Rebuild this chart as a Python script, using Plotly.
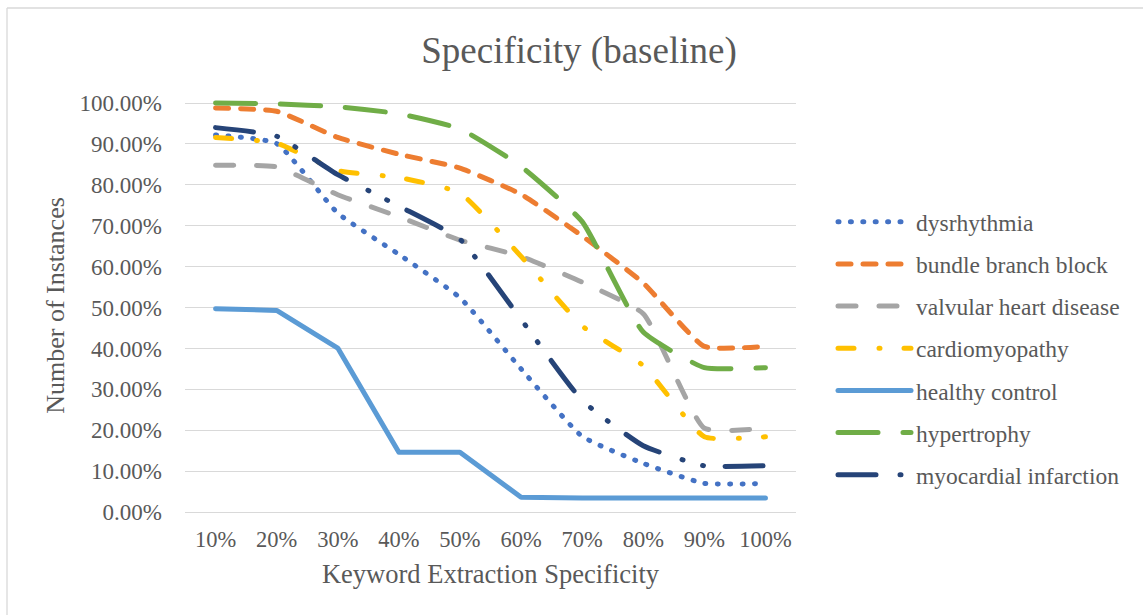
import plotly.graph_objects as go

# ---------------- data ----------------
categories = ["10%", "20%", "30%", "40%", "50%", "60%", "70%", "80%", "90%", "100%"]

dysrhythmia = [92.2, 90.1, 73.1, 63.0, 52.4, 35.0, 18.5, 11.9, 7.0, 7.0]
bundle_branch_block = [98.8, 98.0, 91.6, 87.5, 84.1, 77.7, 67.5, 56.0, 40.5, 40.5]
valvular_heart_disease = [84.8, 84.4, 77.6, 72.2, 66.5, 62.5, 56.2, 48.5, 20.5, 20.5]
cardiomyopathy = [91.6, 90.2, 83.5, 81.8, 78.0, 62.5, 45.5, 35.8, 18.4, 18.4]
healthy_control = [49.7, 49.3, 40.1, 14.6, 14.6, 3.6, 3.4, 3.4, 3.4, 3.4]
hypertrophy = [100.0, 99.8, 99.1, 97.4, 93.7, 84.5, 71.0, 44.0, 35.3, 35.3]
myocardial_infarction = [94.0, 91.9, 82.5, 74.8, 66.7, 47.1, 27.3, 16.2, 11.3, 11.3]

series_names = ["dysrhythmia", "bundle branch block", "valvular heart disease",
                "cardiomyopathy", "healthy control", "hypertrophy", "myocardial infarction"]
series_values = [dysrhythmia, bundle_branch_block, valvular_heart_disease,
                 cardiomyopathy, healthy_control, hypertrophy, myocardial_infarction]

# ---------------- styles ----------------
colors = ["#4472C4", "#ED7D31", "#A5A5A5", "#FFC000", "#5B9BD5", "#70AD47", "#264478"]
dashes = ["1px,11.4px", "13px,12px", "18px,23px", "16px,25px,1px,24px",
          "solid", "40px,25px", "38px,24px,1px,20px,1px,22px"]
shapes_ = ["spline", "spline", "spline", "spline", "linear", "spline", "spline"]

W, H = 1143, 615
L, R, T, B = 185, 347, 99, 103
TXT = "#595959"
FONT = "Liberation Serif"
GRID = "#D9D9D9"


def xp(px):
    return (px - L) / (W - L - R)


def yp(py):
    return (H - B - py) / (H - T - B)


fig = go.Figure()
for i, (name, vals) in enumerate(zip(series_names, series_values)):
    fig.add_trace(go.Scatter(
        x=categories,
        y=[v / 100 for v in vals],
        name=name,
        mode="lines",
        legendgroup=name,
        line=dict(color=colors[i], width=5, dash=dashes[i],
                  shape=shapes_[i], smoothing=0.45),
        hoverinfo="skip",
    ))

fig.update_layout(
    width=W, height=H,
    margin=dict(l=L, r=R, t=T, b=B, autoexpand=False),
    paper_bgcolor="white",
    plot_bgcolor="white",
    font=dict(family=FONT, color=TXT, size=23),
    title=dict(text="Specificity (baseline)", x=579 / W, xref="container", xanchor="center",
               y=1 - 50 / H, yref="container", yanchor="middle",
               font=dict(size=37, color=TXT, family=FONT)),
    showlegend=True,
    legend=dict(x=xp(833), xanchor="left", y=yp(200), yanchor="top",
                traceorder="grouped", tracegroupgap=8.6, itemwidth=73,
                font=dict(size=23.5, color=TXT, family=FONT),
                bgcolor="rgba(0,0,0,0)", borderwidth=0),
    xaxis=dict(
        type="category", range=[-0.5, 9.5],
        showgrid=False, showline=True, linecolor=GRID, linewidth=1.3,
        ticks="", tickfont=dict(size=22.5, color=TXT, family=FONT),
        ticklabelstandoff=7, zeroline=False,
        title=dict(text="Keyword Extraction Specificity", standoff=13,
                   font=dict(size=26.5, color=TXT, family=FONT)),
    ),
    yaxis=dict(
        range=[0, 1.01], dtick=0.1, tick0=0, tickformat=".2%",
        showgrid=True, gridcolor=GRID, gridwidth=1.3, zeroline=False,
        showline=False, ticks="", tickfont=dict(size=23, color=TXT, family=FONT),
        ticklabelstandoff=22,
        title=dict(text="Number of Instances", standoff=7,
                   font=dict(size=26, color=TXT, family=FONT)),
    ),
    shapes=[
        dict(type="line", xref="paper", yref="paper", x0=xp(7), x1=xp(1150), y0=yp(8), y1=yp(8),
             line=dict(color=GRID, width=1.3)),
        dict(type="line", xref="paper", yref="paper", x0=xp(7), x1=xp(7), y0=yp(8), y1=yp(620),
             line=dict(color=GRID, width=1.3)),
    ],
)

post = """
document.querySelectorAll('path.js-line').forEach(function(p){
  p.style.strokeLinecap = 'round';
  p.style.strokeLinejoin = 'round';
});
"""
fig.write_html("out.html", post_script=post)
